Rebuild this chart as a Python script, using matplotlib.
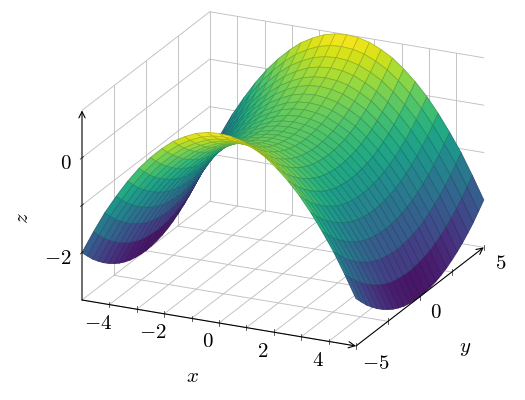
import numpy as np
import matplotlib
matplotlib.use("Agg")
import matplotlib.pyplot as plt
from mpl_toolkits.mplot3d import proj3d
from mpl_toolkits.mplot3d.art3d import Poly3DCollection

plt.rcParams['mathtext.fontset'] = 'cm'
plt.rcParams['font.family'] = ['DejaVu Serif']

# Sample positions and surface height profiles
x_samples = [-5.00, -4.58, -4.17, -3.75, -3.33, -2.92, -2.50, -2.08, -1.67, -1.25, -0.83, -0.42, 0.00,
             0.42, 0.83, 1.25, 1.67, 2.08, 2.50, 2.92, 3.33, 3.75, 4.17, 4.58, 5.00]
y_samples = list(x_samples)
z_along_x = [-3.00, -2.52, -2.08, -1.69, -1.33, -1.02, -0.75, -0.52, -0.33, -0.19, -0.08, -0.02, 0.00,
             -0.02, -0.08, -0.19, -0.33, -0.52, -0.75, -1.02, -1.33, -1.69, -2.08, -2.52, -3.00]
z_along_y = [1.00, 0.84, 0.69, 0.56, 0.44, 0.34, 0.25, 0.17, 0.11, 0.06, 0.03, 0.01, 0.00,
             0.01, 0.03, 0.06, 0.11, 0.17, 0.25, 0.34, 0.44, 0.56, 0.69, 0.84, 1.00]

x_limits = [-5, 5]
y_limits = [-5, 5]
z_limits = [-3, 1]
x_ticks = [-4, -3, -2, -1, 0, 1, 2, 3, 4]
y_ticks = [-5, -2.5, 0, 2.5, 5]
z_ticks = [-2, -1, 0, 1]
x_labels = {-4: '$-4$', -2: '$-2$', 0: '$0$', 2: '$2$', 4: '$4$'}
y_labels = {-5: ('$-5$', (20, -18)), 0: ('$0$', (16, -16)), 5: ('$5$', (16.5, -16))}
z_labels = {-2: '$-2$', 0: '$0$'}

GRID = '#c0c0c0'
GLW = 0.65
ALW = 0.8
FS = 15

fig = plt.figure(figsize=(5.25, 4.0), dpi=100)
ax = fig.add_axes([0, -62.5 / 400, 1, 525 / 400], projection='3d',
                  proj_type='ortho', computed_zorder=False)
ax.set_axis_off()
ax.patch.set_alpha(0)
ax.view_init(elev=21.1, azim=-65)

# Back-plane grid
x0, x1 = x_limits
y0, y1 = y_limits
z0, z1 = z_limits
gk = dict(color=GRID, lw=GLW, zorder=1)
for xv in x_ticks:
    ax.plot([xv, xv], [y0, y1], [z0, z0], **gk)
    ax.plot([xv, xv], [y1, y1], [z0, z1], **gk)
for yv in y_ticks:
    ax.plot([x0, x1], [yv, yv], [z0, z0], **gk)
    if yv > y0:
        ax.plot([x0, x0], [yv, yv], [z0, z1], **gk)
ax.plot([x0, x0], [y0, y1], [z0, z0], **gk)
for zv in z_ticks:
    ax.plot([x0, x0], [y0, y1], [zv, zv], **gk)
    ax.plot([x0, x1], [y1, y1], [zv, zv], **gk)

# Surface
xs = np.array(x_samples)
ys = np.array(y_samples)
X, Y = np.meshgrid(xs, ys, indexing='ij')
Z = np.add.outer(np.array(z_along_x), np.array(z_along_y))
verts, zmean = [], []
for i in range(len(xs) - 1):
    for j in range(len(ys) - 1):
        idx = [(i, j), (i + 1, j), (i + 1, j + 1), (i, j + 1)]
        verts.append([(X[a], Y[a], Z[a]) for a in idx])
        zmean.append(np.mean([Z[a] for a in idx]))
cmap = plt.get_cmap('viridis')
faces = cmap((np.array(zmean) - z0) / (z1 - z0))
edges = faces.copy()
edges[:, :3] *= 0.8
poly = Poly3DCollection(verts, facecolors=faces, edgecolors=edges, linewidths=0.55, zorder=2)
ax.add_collection3d(poly)

ax.set_xlim(x0, x1)
ax.set_ylim(y0, y1)
ax.set_zlim(z0, z1)


def to_data(x, y, z):
    u, v, _ = proj3d.proj_transform(x, y, z, ax.get_proj())
    return float(u), float(v)


def to_px(x, y, z):
    ax.apply_aspect()
    return ax.transData.transform(to_data(x, y, z))


# Fit the box to the canvas: x axis spans 274 px, origin corner at (82, 300)
ax.set_box_aspect((301.4, 301.4, 202.6), zoom=1.0)
span = to_px(x1, y0, z0)[0] - to_px(x0, y0, z0)[0]
ax.set_box_aspect((301.4, 301.4, 202.6), zoom=274.0 / span)
corner = to_px(x0, y0, z0)
pos = ax.get_position(original=True)
ax.set_position([pos.x0 + (82 - corner[0]) / 525, pos.y0 + (100 - corner[1]) / 400, pos.width, pos.height])

# Axis lines with arrow heads
for start, end in [((x0, y0, z0), (x1, y0, z0)),
                   ((x1, y0, z0), (x1, y1, z0)),
                   ((x0, y0, z0), (x0, y0, z1))]:
    ax.annotate('', xy=to_data(*end), xytext=to_data(*start), annotation_clip=False, zorder=5,
                arrowprops=dict(arrowstyle='->,head_length=0.5,head_width=0.25', color='black',
                                lw=ALW, shrinkA=0, shrinkB=0, mutation_scale=9))

# Ticks and tick labels
tk = dict(color='#444444', lw=0.6, zorder=4)
for xv in x_ticks:
    ax.plot([xv, xv], [y0, y0], [z0 - 0.06, z0 + 0.06], **tk)
    if xv in x_labels:
        ax.annotate(x_labels[xv], xy=to_data(xv, y0, z0), xytext=(-11, -19), textcoords='offset pixels',
                    ha='center', va='center', fontsize=FS, annotation_clip=False)
for yv in y_ticks:
    ax.plot([x1, x1], [yv, yv], [z0 - 0.06, z0 + 0.06], **tk)
    if yv in y_labels:
        txt, off = y_labels[yv]
        ax.annotate(txt, xy=to_data(x1, yv, z0), xytext=off, textcoords='offset pixels',
                    ha='center', va='center', fontsize=FS, annotation_clip=False)
for zv in z_ticks[:-1]:
    ax.plot([x0, x0], [y0 - 0.13, y0 + 0.13], [zv, zv], **tk)
    if zv in z_labels:
        ax.annotate(z_labels[zv], xy=to_data(x0, y0, zv), xytext=(-10.5, -5.5), textcoords='offset pixels',
                    ha='right', va='center', fontsize=FS, annotation_clip=False)

# Axis labels
fig.text(192 / 525, 1 - 376 / 400, '$x$', ha='center', va='center', fontsize=FS)
fig.text(465 / 525, 1 - 349 / 400, '$y$', ha='center', va='center', fontsize=FS)
fig.text(22 / 525, 1 - 218 / 400, '$z$', ha='center', va='center', fontsize=FS, rotation=90)

fig.savefig('out.png', dpi=100)
